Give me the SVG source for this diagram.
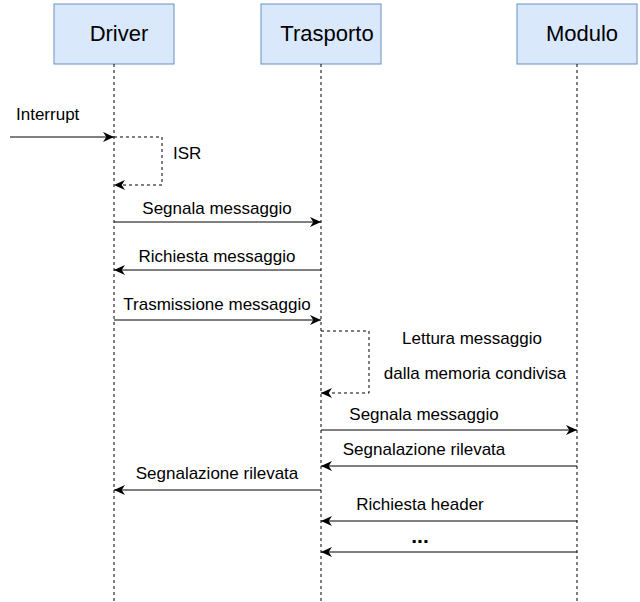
<svg xmlns="http://www.w3.org/2000/svg" width="640" height="602" viewBox="0 0 640 602">
<defs>
<marker id="arr" viewBox="0 0 10 10" refX="10" refY="5" markerWidth="11" markerHeight="11" markerUnits="userSpaceOnUse" orient="auto">
<path d="M0,0.5 L10,5 L0,9.5 L3,5 Z" fill="#000"/>
</marker>
</defs>
<style>
.box{fill:#dae8fc;stroke:#6c8ebf;stroke-width:1}
.title{font-family:"Liberation Sans",Arial,sans-serif;font-size:22px;fill:#000;text-anchor:middle}
.life{stroke:#000;stroke-width:1;stroke-dasharray:3,3;fill:none}
.msg{stroke:#000;stroke-width:1;fill:none;marker-end:url(#arr)}
.self{stroke:#000;stroke-width:1;stroke-dasharray:3,3;fill:none;marker-end:url(#arr)}
.lbl{font-family:"Liberation Sans",Arial,sans-serif;font-size:17px;fill:#000;text-anchor:middle}
.start{text-anchor:start}
</style>
<rect width="640" height="602" fill="#fff"/>
<g id="driver">
<rect class="box" x="54" y="4" width="120" height="60"/>
<text class="title" x="119" y="41">Driver</text>
<line class="life" x1="114" y1="64" x2="114" y2="602"/>
</g>
<g id="trasporto">
<rect class="box" x="261" y="4" width="120" height="60"/>
<text class="title" x="327" y="41">Trasporto</text>
<line class="life" x1="321" y1="64" x2="321" y2="602"/>
</g>
<g id="modulo">
<rect class="box" x="517" y="4" width="120" height="60"/>
<text class="title" x="582" y="41">Modulo</text>
<line class="life" x1="577" y1="64" x2="577" y2="602"/>
</g>
<g id="connectors">
<line class="msg" x1="10" y1="137" x2="114" y2="137"/>
<polyline class="self" points="114,137 162,137 162,185 114,185"/>
<line class="msg" x1="114" y1="222" x2="321" y2="222"/>
<line class="msg" x1="321" y1="270" x2="114" y2="270"/>
<line class="msg" x1="114" y1="320" x2="321" y2="320"/>
<polyline class="self" points="321,331 369,331 369,393 321,393"/>
<line class="msg" x1="321" y1="430" x2="577" y2="430"/>
<line class="msg" x1="577" y1="466" x2="321" y2="466"/>
<line class="msg" x1="321" y1="490" x2="114" y2="490"/>
<line class="msg" x1="577" y1="521" x2="321" y2="521"/>
<line class="msg" x1="577" y1="552" x2="321" y2="552"/>
</g>
<g id="labels">
<text class="lbl start" x="16" y="120">Interrupt</text>
<text class="lbl start" x="173" y="159">ISR</text>
<text class="lbl" x="217" y="214">Segnala messaggio</text>
<text class="lbl" x="217" y="262">Richiesta messaggio</text>
<text class="lbl" x="217" y="310">Trasmissione messaggio</text>
<text class="lbl" x="472" y="344">Lettura messaggio</text>
<text class="lbl" x="475" y="379">dalla memoria condivisa</text>
<text class="lbl" x="424" y="420">Segnala messaggio</text>
<text class="lbl" x="424" y="455">Segnalazione rilevata</text>
<text class="lbl" x="217" y="479">Segnalazione rilevata</text>
<text class="lbl" x="420" y="510">Richiesta header</text>
<text class="lbl" x="420" y="543" style="font-weight:bold;font-size:21px">...</text>
</g>
</svg>
